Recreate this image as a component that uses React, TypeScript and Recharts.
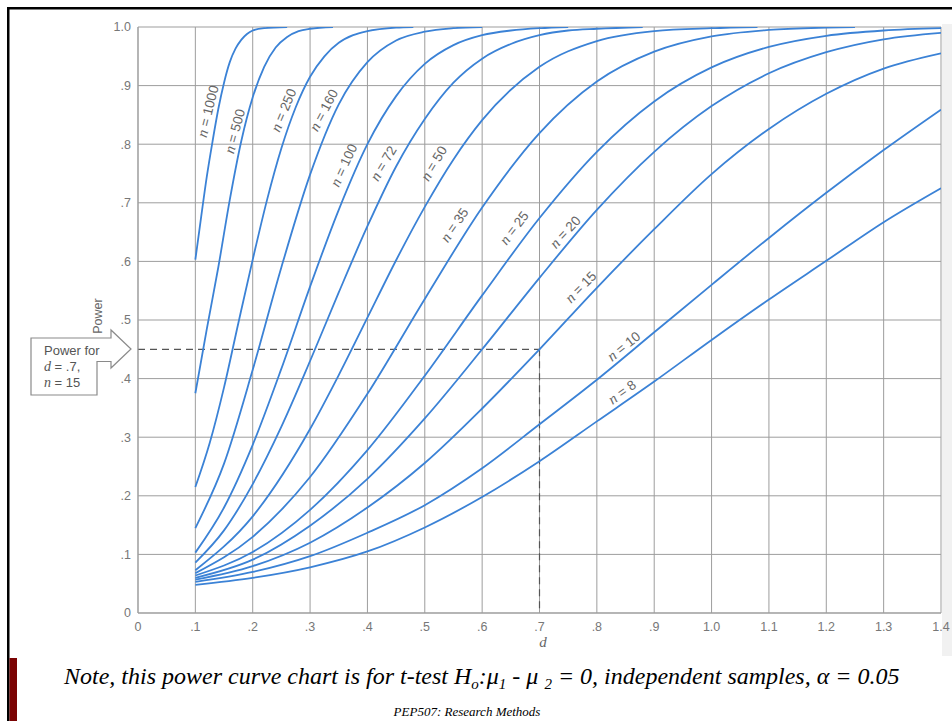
import { LineChart, Line, XAxis, YAxis, CartesianGrid, ReferenceLine, ReferenceDot } from "recharts";

// power curves, [d, power] per sample size n
const n1000 = [[0.1, 0.603], [0.11, 0.675], [0.12, 0.745], [0.13, 0.805], [0.14, 0.86], [0.15, 0.905], [0.16, 0.94], [0.17, 0.963], [0.18, 0.978], [0.19, 0.988], [0.2, 0.994], [0.22, 0.998], [0.26, 1.0]];
const n500 = [[0.1, 0.375], [0.12, 0.485], [0.14, 0.59], [0.16, 0.705], [0.18, 0.805], [0.2, 0.88], [0.22, 0.932], [0.24, 0.965], [0.26, 0.983], [0.28, 0.993], [0.3, 0.997], [0.34, 1.0]];
const n250 = [[0.1, 0.215], [0.125, 0.29], [0.15, 0.385], [0.175, 0.495], [0.2, 0.603], [0.225, 0.705], [0.25, 0.793], [0.275, 0.863], [0.3, 0.915], [0.325, 0.95], [0.35, 0.973], [0.375, 0.986], [0.4, 0.993], [0.45, 0.999], [0.48, 1.0]];
const n160 = [[0.1, 0.145], [0.15, 0.255], [0.2, 0.415], [0.25, 0.59], [0.3, 0.748], [0.35, 0.868], [0.4, 0.94], [0.45, 0.977], [0.5, 0.992], [0.55, 0.998], [0.6, 1.0]];
const n100 = [[0.1, 0.103], [0.15, 0.18], [0.2, 0.287], [0.25, 0.417], [0.3, 0.557], [0.35, 0.688], [0.4, 0.8], [0.45, 0.882], [0.5, 0.937], [0.55, 0.969], [0.6, 0.986], [0.65, 0.994], [0.7, 0.998], [0.75, 1.0]];
const n72 = [[0.1, 0.086], [0.15, 0.141], [0.2, 0.22], [0.25, 0.318], [0.3, 0.43], [0.35, 0.547], [0.4, 0.66], [0.45, 0.762], [0.5, 0.843], [0.55, 0.905], [0.6, 0.946], [0.65, 0.971], [0.7, 0.986], [0.75, 0.994], [0.8, 0.997], [0.88, 1.0]];
const n50 = [[0.1, 0.073], [0.2, 0.165], [0.3, 0.314], [0.35, 0.406], [0.4, 0.504], [0.45, 0.602], [0.5, 0.693], [0.55, 0.774], [0.6, 0.841], [0.7, 0.932], [0.8, 0.976], [0.9, 0.993], [1.0, 0.998], [1.08, 1.0]];
const n35 = [[0.1, 0.068], [0.2, 0.13], [0.3, 0.232], [0.4, 0.374], [0.5, 0.536], [0.6, 0.692], [0.7, 0.819], [0.8, 0.907], [0.9, 0.958], [1.0, 0.984], [1.1, 0.995], [1.2, 0.999], [1.25, 1.0]];
const n25 = [[0.1, 0.064], [0.2, 0.104], [0.3, 0.176], [0.4, 0.278], [0.5, 0.405], [0.6, 0.542], [0.7, 0.674], [0.8, 0.787], [0.9, 0.873], [1.0, 0.931], [1.1, 0.966], [1.2, 0.985], [1.3, 0.994], [1.4, 0.998]];
const n20 = [[0.1, 0.06], [0.2, 0.091], [0.3, 0.149], [0.4, 0.229], [0.5, 0.332], [0.6, 0.45], [0.7, 0.572], [0.8, 0.688], [0.9, 0.787], [1.0, 0.865], [1.1, 0.921], [1.2, 0.957], [1.3, 0.979], [1.4, 0.99]];
const n15 = [[0.1, 0.057], [0.2, 0.08], [0.3, 0.12], [0.4, 0.18], [0.5, 0.256], [0.6, 0.349], [0.7, 0.45], [0.8, 0.555], [0.9, 0.655], [1.0, 0.749], [1.1, 0.826], [1.2, 0.886], [1.3, 0.929], [1.4, 0.955]];
const n10 = [[0.1, 0.053], [0.2, 0.07], [0.3, 0.097], [0.4, 0.137], [0.5, 0.184], [0.6, 0.247], [0.7, 0.322], [0.8, 0.398], [0.9, 0.479], [1.0, 0.56], [1.1, 0.64], [1.2, 0.717], [1.3, 0.79], [1.4, 0.859]];
const n8 = [[0.1, 0.048], [0.2, 0.06], [0.3, 0.078], [0.4, 0.105], [0.5, 0.146], [0.6, 0.198], [0.7, 0.259], [0.8, 0.327], [0.9, 0.395], [1.0, 0.466], [1.1, 0.535], [1.2, 0.601], [1.3, 0.667], [1.4, 0.725]];

const CURVES = [n1000, n500, n250, n160, n100, n72, n50, n35, n25, n20, n15, n10, n8];
const N_LABELS = ["1000", "500", "250", "160", "100", "72", "50", "35", "25", "20", "15", "10", "8"];
// where each "n = .." label sits (in d / power units) and its tilt
const LABEL_D = [0.122, 0.169, 0.254, 0.324, 0.359, 0.428, 0.516, 0.552, 0.656, 0.745, 0.772, 0.847, 0.844];
const LABEL_P = [0.856, 0.822, 0.858, 0.858, 0.764, 0.767, 0.767, 0.662, 0.657, 0.65, 0.556, 0.455, 0.377];
const LABEL_ANGLE = [-76, -75, -67, -62, -65, -59, -59, -55, -52, -47, -45, -38, -35];

const X_TICKS = [0, 0.1, 0.2, 0.3, 0.4, 0.5, 0.6, 0.7, 0.8, 0.9, 1.0, 1.1, 1.2, 1.3, 1.4];
const Y_TICKS = [0, 0.1, 0.2, 0.3, 0.4, 0.5, 0.6, 0.7, 0.8, 0.9, 1.0];

const MARKED_D = 0.7;
const MARKED_POWER = 0.45;

const BLUE = "#3b82d6";
const GRID = "#9d9d9d";
const SANS = "'Liberation Sans', Arial, sans-serif";
const SERIF = "'Liberation Serif', 'Times New Roman', serif";

const fmt = (v: number) => (v === 0 ? "0" : v >= 1 ? v.toFixed(1) : v.toFixed(1).replace(/^0/, ""));

function CurveLabel(props: any) {
  const { cx, cy, text, angle } = props;
  if (cx == null || cy == null) return null;
  return (
    <text
      x={cx}
      y={cy}
      transform={`rotate(${angle}, ${cx}, ${cy})`}
      textAnchor="middle"
      dominantBaseline="central"
      fill="#666"
      fontSize={13.5}
      fontFamily={SANS}
    >
      <tspan fontFamily={SERIF} fontStyle="italic" fontSize={15}>n</tspan>
      {` = ${text}`}
    </text>
  );
}

export default function App() {
  return (
    <div style={{ position: "absolute", left: 0, top: 0, width: 952, height: 721, background: "#fff", overflow: "hidden" }}>
      {/* scanner shading on the right edge, behind the chart */}
      <svg width={952} height={721} style={{ position: "absolute", left: 0, top: 0 }}>
        <rect x={942} y={24} width={10} height={632} fill="#f1f1f1" />
      </svg>

      <div style={{ position: "absolute", left: 0, top: 0 }}>
        <LineChart width={952} height={721} margin={{ top: 27, right: 11, bottom: 78, left: 98 }}>
          <CartesianGrid stroke={GRID} strokeWidth={1} />
          <XAxis
            type="number"
            dataKey="d"
            domain={[0, 1.4]}
            ticks={X_TICKS}
            interval={0}
            tickFormatter={fmt}
            tickLine={false}
            tickSize={0}
            tickMargin={9}
            height={30}
            axisLine={{ stroke: GRID }}
            tick={{ fill: "#777", fontSize: 12.5, fontFamily: SANS }}
            allowDataOverflow
          />
          <YAxis
            type="number"
            domain={[0, 1]}
            ticks={Y_TICKS}
            interval={0}
            tickFormatter={fmt}
            tickLine={false}
            tickSize={0}
            tickMargin={7}
            width={40}
            axisLine={{ stroke: GRID }}
            tick={{ fill: "#777", fontSize: 12.5, fontFamily: SANS }}
            allowDataOverflow
          />
          <ReferenceLine
            segment={[{ x: 0, y: MARKED_POWER }, { x: MARKED_D, y: MARKED_POWER }]}
            stroke="#555"
            strokeWidth={1.2}
            strokeDasharray="7 5"
          />
          <ReferenceLine
            segment={[{ x: MARKED_D, y: MARKED_POWER }, { x: MARKED_D, y: 0 }]}
            stroke="#555"
            strokeWidth={1.2}
            strokeDasharray="7 5"
          />
          {CURVES.map((pts, i) => (
            <Line
              key={N_LABELS[i]}
              data={pts.map(([d, p]) => ({ d, p }))}
              dataKey="p"
              type="monotone"
              stroke={BLUE}
              strokeWidth={1.8}
              dot={false}
              activeDot={false}
              isAnimationActive={false}
            />
          ))}
          {N_LABELS.map((t, i) => (
            <ReferenceDot
              key={"lbl" + t}
              x={LABEL_D[i]}
              y={LABEL_P[i]}
              r={0}
              shape={(p: any) => <CurveLabel {...p} text={t} angle={LABEL_ANGLE[i]} />}
            />
          ))}
        </LineChart>
      </div>

      <svg width={952} height={721} style={{ position: "absolute", left: 0, top: 0, pointerEvents: "none" }}>
        {/* slide frame */}
        <rect x={7} y={7} width={945} height={2.5} fill="#000" />
        <rect x={7} y={7} width={2.5} height={714} fill="#000" />
        <rect x={9.5} y={658} width={7.5} height={63} fill="#7a0303" />

        {/* axis titles */}
        <text x={98} y={316} transform="rotate(-90, 98, 316)" textAnchor="middle" dominantBaseline="central" fontSize={12.5} fill="#666" fontFamily={SANS}>
          Power
        </text>
        <text x={543} y={647} textAnchor="middle" fontSize={15} fill="#666" fontFamily={SERIF} fontStyle="italic">
          d
        </text>

        {/* call-out arrow */}
        <path
          d="M31,338 L111,338 L111,330 L131,349 L111,368 L111,361.5 L97,361.5 L97,395 L31,395 Z"
          fill="#fff"
          stroke="#8a8a8a"
          strokeWidth={1.2}
        />
        <text x={44} y={355} fontSize={13} fill="#555" fontFamily={SANS}>Power for</text>
        <text x={44} y={371} fontSize={13} fill="#555" fontFamily={SANS}>
          <tspan fontFamily={SERIF} fontStyle="italic" fontSize={14}>d</tspan> = .7,
        </text>
        <text x={44} y={387} fontSize={13} fill="#555" fontFamily={SANS}>
          <tspan fontFamily={SERIF} fontStyle="italic" fontSize={14}>n</tspan> = 15
        </text>

        {/* footnote */}
        <text x={64} y={684} fontSize={24} fill="#000" fontFamily={SERIF} fontStyle="italic">
          Note, this power curve chart is for t-test H
          <tspan fontSize={15} dy={5}>o</tspan>
          <tspan dy={-5}>:μ</tspan>
          <tspan fontSize={15} dy={5}>1</tspan>
          <tspan dy={-5}> - μ </tspan>
          <tspan fontSize={15} dy={5}>2</tspan>
          <tspan dy={-5}> = 0, independent samples, α = 0.05</tspan>
        </text>
        <text x={467} y={716} textAnchor="middle" fontSize={13} fill="#000" fontFamily={SERIF} fontStyle="italic">
          PEP507: Research Methods
        </text>
      </svg>
    </div>
  );
}
